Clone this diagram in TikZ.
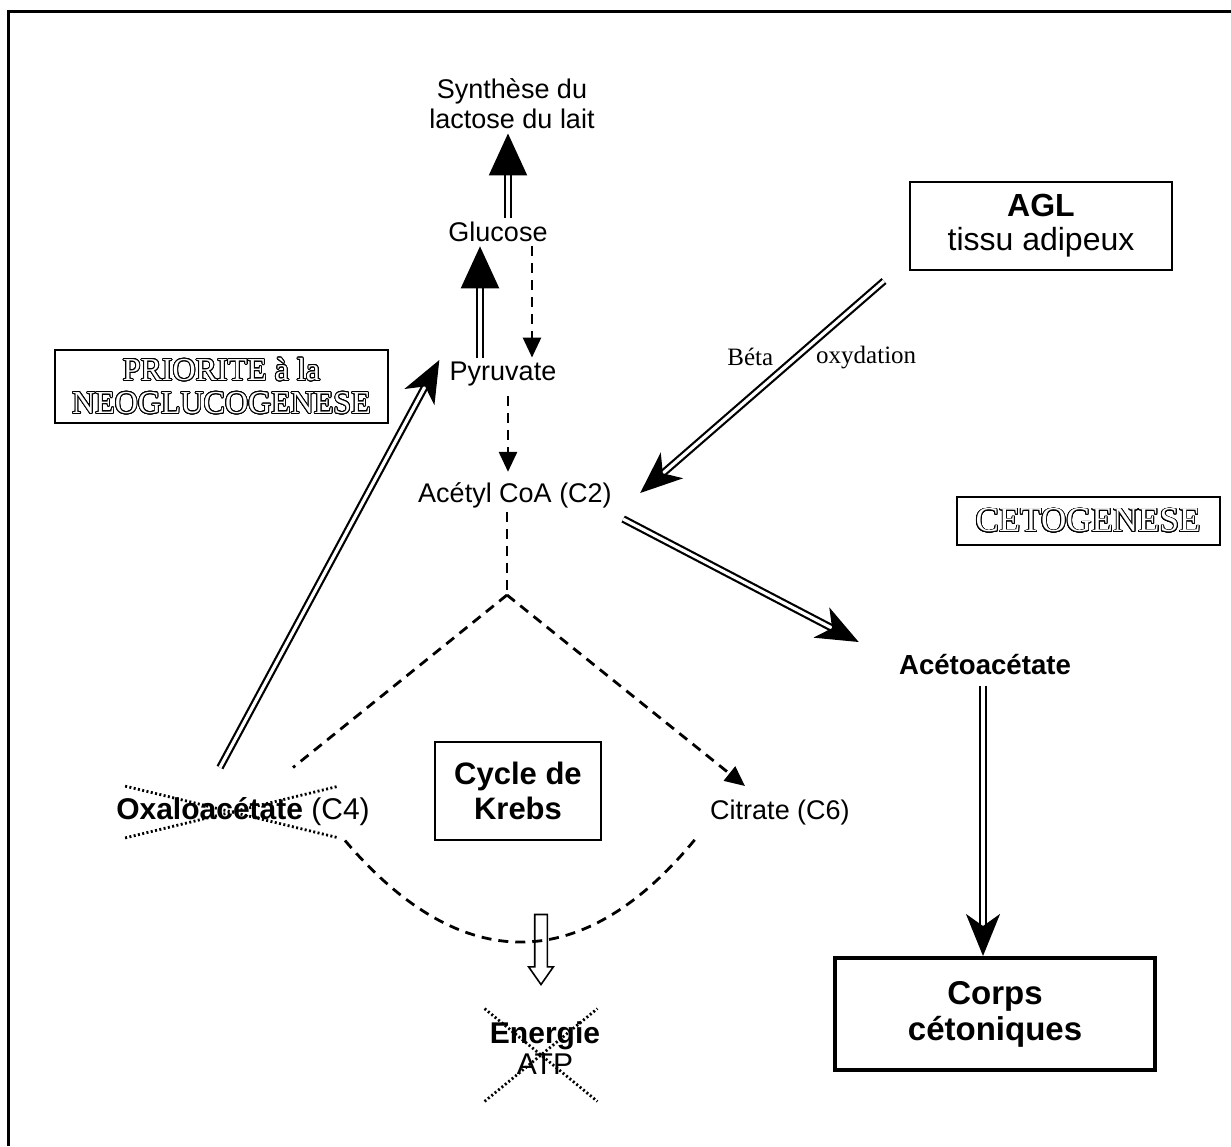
\documentclass[tikz,border=0pt]{standalone}
\usepackage{fontspec}
\setmainfont{Liberation Sans}
\newfontfamily\timesfont{Liberation Serif}
\usepackage{contour}
\contourlength{0.45pt}
\contournumber{24}
\usetikzlibrary{arrows.meta,positioning,shapes.arrows,shapes.misc}
\tikzset{
    %Define style for plain text nodes
    txt/.style={
           inner sep=2pt,
           align=center,
           font=\fontsize{13.5}{15}\selectfont},
    %Define style for boxes
    box/.style={
           rectangle,
           draw=black, line width=1pt,
           inner sep=2pt,
           align=center},
    outlined/.style={
           box,
           font=\timesfont\fontsize{16}{16.5}\selectfont},
    crossx/.style={
           cross out,
           draw=black, line width=1.4pt,
           dash pattern=on 1pt off 1.2pt,
           inner sep=0pt},
    % Define arrow styles
    dashln/.style={
           line width=1.4pt,
           dash pattern=on 5pt off 3.5pt},
    dasharrow/.style={
           dashln,
           -{Triangle[length=10pt,width=9pt]}},
    dbl/.style={
           double, double distance=1.6pt,
           line width=1.1pt},
    dblbig/.style={
           dbl,
           -{Triangle[length=21pt,width=19pt]}},
    dblstealth/.style={
           dbl,
           -{Stealth[length=21pt,width=17pt,inset=6pt]}},
    hollow/.style={
           single arrow, draw=black, line width=0.8pt,
           shape border rotate=270,
           single arrow tip angle=70,
           single arrow head extend=3pt,
           minimum height=35pt, minimum width=11.5pt,
           inner sep=2.75pt},
    btlabel/.style={
           font=\timesfont\fontsize{12.5}{13}\selectfont}
}
\newcommand{\outl}[1]{{\color{white}\contour{black}{#1}}}

\begin{document}
\begin{tikzpicture}[x=0.5pt,y=-0.5pt]
\useasboundingbox (0,0) rectangle (1231,1146);
\draw[line width=1.5pt] (8,1146) -- (8,11) -- (1231,11);

 %nodes
\node[txt] (synth) at (512,104) {Synthèse du\\lactose du lait};
\node[txt] (gluc) at (498,232) {Glucose};
\node[txt] (pyr) at (503,374) {Pyruvate};
\node[txt] (acetyl) at (515,495) {Acétyl CoA (C2)};
\coordinate (junc) at (507,595);
\node[txt, font=\fontsize{15}{17}\selectfont] (ox) at (243,812) {\textbf{Oxaloacétate} (C4)};
\node[txt] (citr) at (780,812) {Citrate (C6)};
\node[box, minimum width=83pt, minimum height=49pt,
      font=\bfseries\fontsize{15.5}{17.5}\selectfont] (krebs) at (518,791) {Cycle de\\Krebs};
\node[txt, font=\fontsize{15}{15.5}\selectfont] (en) at (545,1048) {\textbf{Energie}\\ATP};
\node[txt, font=\bfseries\fontsize{13.8}{15}\selectfont] (aceto) at (985,665) {Acétoacétate};
\node[box, line width=2pt, minimum width=160pt, minimum height=56pt,
      font=\bfseries\fontsize{16.5}{18}\selectfont] (corps) at (995,1014) {Corps\\cétoniques};
\node[box, minimum width=131pt, minimum height=44pt,
      font=\fontsize{16}{17}\selectfont] (agl) at (1041,226) {\textbf{AGL}\\tissu adipeux};
\node[outlined, minimum width=131.5pt, minimum height=24pt,
      font=\timesfont\fontsize{17.5}{18}\selectfont] (ceto) at (1088,521) {\outl{CETOGENESE}};
\node[outlined, minimum width=166.5pt, minimum height=36.5pt] (prio) at (221.5,386.5)
      {\outl{PRIORITE à la}\\\outl{NEOGLUCOGENESE}};

 %crossed out
\node[crossx, minimum width=105.5pt, minimum height=24.5pt] (oxx) at (232,812) {};
\node[crossx, minimum width=55pt, minimum height=45pt] (enx) at (541,1055) {};

 %arrows
\draw[dblbig] ([xshift=5pt]gluc.north) -- ([xshift=-2pt]synth.south);
\draw[dblbig] ([xshift=-11.5pt]pyr.north) -- ([xshift=-9pt]gluc.south);
\draw[dasharrow] ([xshift=17pt]gluc.south) -- ([xshift=14.5pt]pyr.north);
\draw[dasharrow] ([xshift=2.5pt,yshift=-3pt]pyr.south) -- ([xshift=-3.5pt,yshift=3pt]acetyl.north);
\draw[dashln] ([xshift=-4pt]acetyl.south) -- (junc);
\draw[dashln] (junc) -- ([shift={(25pt,13pt)}]ox.north);
\draw[dasharrow] (junc) -- ([shift={(-17.5pt,4.5pt)}]citr.north);
\draw[dashln] ([shift={(51pt,-5pt)}]ox.south) .. controls (462,978) and (585,975)
      .. ([shift={(-41.5pt,-4pt)}]citr.south);
\node[hollow] (down) at (541,945) {};
\draw[dblstealth] ([shift={(-11.5pt,13pt)}]ox.north) -- ([shift={(-3pt,7pt)}]pyr.west);
\draw[dblstealth] ([shift={(-12.5pt,-5pt)}]agl.south west) -- ([shift={(12pt,1pt)}]acetyl.east)
      node[pos=0.36, xshift=-23pt, btlabel] {Béta}
      node[pos=0.36, xshift=35pt, btlabel] {oxydation};
\draw[dblstealth] ([shift={(3.5pt,-12pt)}]acetyl.east) -- ([shift={(-18pt,11.5pt)}]aceto.west);
\draw[dblstealth] ([xshift=-1pt,yshift=-3pt]aceto.south) -- ([xshift=-6pt]corps.north);
\end{tikzpicture}
\end{document}
